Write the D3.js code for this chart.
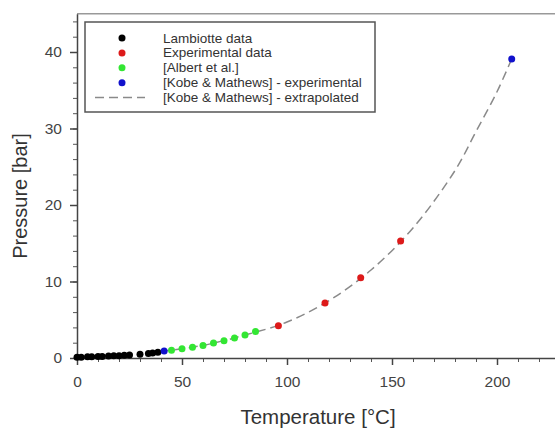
<!DOCTYPE html>
<html>
<head>
	<script src="https://cdn.jsdelivr.net/npm/d3@7"></script>
	<style>
		body { margin: 0; background: #fff; }
		svg { font-family: "Liberation Sans", Arial, sans-serif; }
	</style>
</head>
<body>
	<script>
		// values
		var lambT = [0, 2, 5, 7, 10, 12, 15, 17.5, 20, 22.5, 25, 30, 34, 36, 38.5];
		var lambP = [0.1, 0.1, 0.15, 0.15, 0.2, 0.2, 0.25, 0.3, 0.3, 0.35, 0.4, 0.5, 0.6, 0.65, 0.75];

		var expT = [95.9, 118.1, 135.1, 154.1];
		var expP = [4.2, 7.2, 10.5, 15.3];

		var albertT = [45, 50, 55, 60, 65, 70, 75, 80, 85];
		var albertP = [1.0, 1.2, 1.4, 1.65, 1.95, 2.25, 2.6, 3.0, 3.45];

		var kobeT = [41.5, 207];
		var kobeP = [0.9, 39.1];

		var extraT = [40, 60, 80, 100, 120, 140, 160, 180, 190, 200, 207];
		var extraP = [0.85, 1.65, 3.0, 4.7, 7.5, 11.5, 17.0, 24.5, 29.6, 34.8, 39.1];

		var xMajor = [0, 50, 100, 150, 200];
		var yMajor = [0, 10, 20, 30, 40];

		var legendLabels = ["Lambiotte data", "Experimental data", "[Albert et al.]",
			"[Kobe & Mathews] - experimental", "[Kobe & Mathews] - extrapolated"];

		var W = 555, H = 431;
		var svg = d3.select('body').append('svg')
			.attr('width', W)
			.attr('height', H);

		var x = d3.scaleLinear().domain([0, 230]).range([77, 560]);
		var y = d3.scaleLinear().domain([0, 45]).range([358, 13.75]);

		function zip(a, b) { return a.map(function(v, i) { return [v, b[i]]; }); }

		// frame top
		svg.append("line")
			.attr("x1", x(0)).attr("x2", W)
			.attr("y1", y(45)).attr("y2", y(45))
			.style("stroke", "#999").style("stroke-width", 1.5);

		// minor ticks
		svg.append("g")
			.attr("transform", "translate(0," + y(0) + ")")
			.call(d3.axisBottom(x).tickValues(d3.range(0, 231, 10)).tickSize(4).tickFormat(""))
			.call(function(g) { g.select(".domain").remove(); })
			.selectAll("line").style("stroke", "#555");
		svg.append("g")
			.attr("transform", "translate(" + x(0) + ",0)")
			.call(d3.axisLeft(y).tickValues(d3.range(0, 45, 2)).tickSize(4).tickFormat(""))
			.call(function(g) { g.select(".domain").remove(); })
			.selectAll("line").style("stroke", "#555");

		// major axes
		var xAxis = svg.append("g")
			.attr("transform", "translate(0," + y(0) + ")")
			.call(d3.axisBottom(x).tickValues(xMajor).tickSize(7).tickSizeOuter(0).tickPadding(11));
		var yAxis = svg.append("g")
			.attr("transform", "translate(" + x(0) + ",0)")
			.call(d3.axisLeft(y).tickValues(yMajor).tickSize(7).tickSizeOuter(0).tickPadding(8));

		[xAxis, yAxis].forEach(function(g) {
			g.select(".domain").style("stroke", "#444").style("stroke-width", 1.5);
			g.selectAll("line").style("stroke", "#444").style("stroke-width", 1.5);
			g.selectAll("text")
				.style("font-family", "'Liberation Sans', Arial, sans-serif")
				.style("font-size", "15.5px")
				.style("fill", "#444");
		});

		// axis titles
		svg.append("text")
			.attr("x", 318).attr("y", 424)
			.attr("text-anchor", "middle")
			.style("font-size", "20.5px").style("fill", "#333")
			.text("Temperature [°C]");
		svg.append("text")
			.attr("transform", "translate(27,196) rotate(-90)")
			.attr("text-anchor", "middle")
			.style("font-size", "20px").style("fill", "#333")
			.text("Pressure [bar]");

		// extrapolated curve
		var line = d3.line()
			.x(function(d) { return x(d[0]); })
			.y(function(d) { return y(d[1]); })
			.curve(d3.curveCatmullRom);
		svg.append("path")
			.datum(zip(extraT, extraP))
			.attr("d", line)
			.style("fill", "none")
			.style("stroke", "#8a8a8a")
			.style("stroke-width", 1.5)
			.style("stroke-dasharray", "9,5");

		var colors = ["#000000", "#dd1a1a", "#33e633", "#1111cc"];
		var sets = [zip(lambT, lambP), zip(expT, expP), zip(albertT, albertP), zip(kobeT, kobeP)];

		sets.forEach(function(pts, k) {
			svg.append("g").selectAll("circle")
				.data(pts)
				.enter().append("circle")
				.attr("cx", function(d) { return x(d[0]); })
				.attr("cy", function(d) { return y(d[1]); })
				.attr("r", 3.5)
				.style("fill", colors[k]);
		});

		// legend
		var leg = svg.append("g");
		leg.append("rect")
			.attr("x", 85).attr("y", 22)
			.attr("width", 290).attr("height", 90)
			.style("fill", "#fff")
			.style("stroke", "#555")
			.style("stroke-width", 1.5);

		legendLabels.forEach(function(lab, i) {
			var ly = 38 + i * 14.9;
			if (i < 4) {
				leg.append("circle")
					.attr("cx", 122).attr("cy", ly)
					.attr("r", 3.5)
					.style("fill", colors[i]);
			} else {
				leg.append("line")
					.attr("x1", 95).attr("x2", 145)
					.attr("y1", ly).attr("y2", ly)
					.style("stroke", "#8a8a8a")
					.style("stroke-width", 1.5)
					.style("stroke-dasharray", "9,5");
			}
			leg.append("text")
				.attr("x", 163).attr("y", ly + 4.5)
				.style("font-size", "13.5px").style("fill", "#333")
				.text(lab);
		});
	</script>
</body>
</html>
